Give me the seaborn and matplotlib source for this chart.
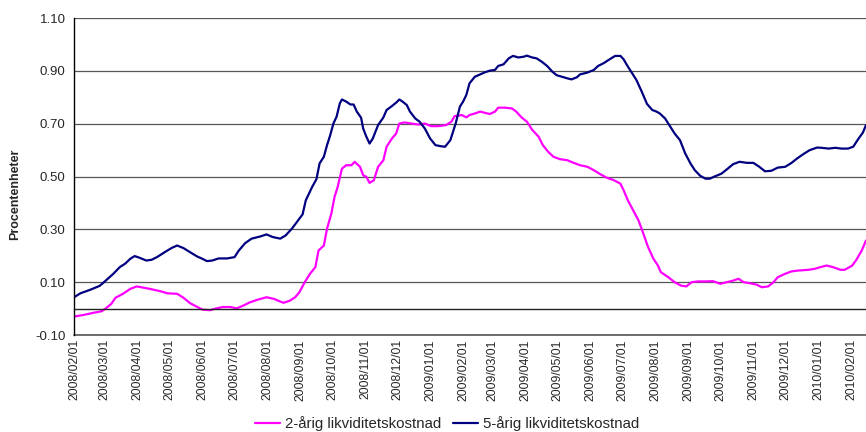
import pandas as pd
import numpy as np
import matplotlib
matplotlib.use("Agg")
import matplotlib.pyplot as plt
import matplotlib.dates as mdates
import seaborn as sns

# 2-year liquidity cost
two_year_dates = [
    "2008-02-01", "2008-02-10", "2008-02-19", "2008-02-27", "2008-03-02", "2008-03-07",
    "2008-03-11", "2008-03-18", "2008-03-25", "2008-03-31", "2008-04-04", "2008-04-12",
    "2008-04-22", "2008-04-29", "2008-05-08", "2008-05-14", "2008-05-20", "2008-05-27",
    "2008-06-01", "2008-06-08", "2008-06-14", "2008-06-20", "2008-06-27", "2008-07-03",
    "2008-07-09", "2008-07-15", "2008-07-22", "2008-07-31", "2008-08-07", "2008-08-11",
    "2008-08-16", "2008-08-22", "2008-08-27", "2008-08-31", "2008-09-05", "2008-09-10",
    "2008-09-15", "2008-09-18", "2008-09-23", "2008-09-26", "2008-09-30", "2008-10-03",
    "2008-10-06", "2008-10-10", "2008-10-14", "2008-10-19", "2008-10-22", "2008-10-27",
    "2008-10-30", "2008-11-02", "2008-11-05", "2008-11-09", "2008-11-13", "2008-11-18",
    "2008-11-21", "2008-11-26", "2008-11-30", "2008-12-03", "2008-12-08", "2008-12-14",
    "2008-12-21", "2008-12-27", "2009-01-02", "2009-01-08", "2009-01-16", "2009-01-21",
    "2009-01-24", "2009-01-31", "2009-02-04", "2009-02-07", "2009-02-12", "2009-02-17",
    "2009-02-21", "2009-02-26", "2009-03-03", "2009-03-06", "2009-03-12", "2009-03-19",
    "2009-03-23", "2009-03-28", "2009-04-02", "2009-04-07", "2009-04-13", "2009-04-17",
    "2009-04-22", "2009-04-27", "2009-05-03", "2009-05-10", "2009-05-16", "2009-05-22",
    "2009-05-29", "2009-06-04", "2009-06-10", "2009-06-16", "2009-06-23", "2009-06-29",
    "2009-07-02", "2009-07-06", "2009-07-11", "2009-07-16", "2009-07-20", "2009-07-25",
    "2009-07-30", "2009-08-03", "2009-08-06", "2009-08-13", "2009-08-19", "2009-08-25",
    "2009-08-30", "2009-09-04", "2009-09-10", "2009-09-17", "2009-09-24", "2009-10-01",
    "2009-10-07", "2009-10-13", "2009-10-18", "2009-10-23", "2009-10-29", "2009-11-04",
    "2009-11-09", "2009-11-15", "2009-11-20", "2009-11-24", "2009-12-01", "2009-12-07",
    "2009-12-13", "2009-12-23", "2009-12-29", "2010-01-03", "2010-01-09", "2010-01-15",
    "2010-01-22", "2010-01-26", "2010-02-02", "2010-02-06", "2010-02-11", "2010-02-15",
]
two_year_values = [
    -0.030, -0.024, -0.016, -0.010, 0.001, 0.018,
    0.041, 0.056, 0.075, 0.084, 0.081, 0.075,
    0.066, 0.058, 0.056, 0.041, 0.021, 0.006,
    -0.004, -0.006, 0.001, 0.006, 0.006, 0.001,
    0.011, 0.023, 0.033, 0.043, 0.037, 0.030,
    0.022, 0.030, 0.043, 0.062, 0.100, 0.132,
    0.157, 0.220, 0.239, 0.303, 0.359, 0.422,
    0.461, 0.530, 0.543, 0.543, 0.556, 0.537,
    0.505, 0.499, 0.476, 0.486, 0.537, 0.562,
    0.613, 0.644, 0.663, 0.701, 0.705, 0.701,
    0.697, 0.701, 0.691, 0.691, 0.695, 0.708,
    0.729, 0.733, 0.724, 0.733, 0.739, 0.746,
    0.742, 0.737, 0.746, 0.761, 0.761, 0.758,
    0.746, 0.724, 0.708, 0.677, 0.651, 0.619,
    0.594, 0.575, 0.566, 0.562, 0.552, 0.543,
    0.537, 0.524, 0.509, 0.496, 0.486, 0.473,
    0.448, 0.410, 0.372, 0.334, 0.290, 0.233,
    0.189, 0.165, 0.138, 0.119, 0.100, 0.087,
    0.084, 0.100, 0.103, 0.103, 0.104, 0.094,
    0.100, 0.106, 0.113, 0.100, 0.096, 0.091,
    0.081, 0.084, 0.100, 0.119, 0.132, 0.141,
    0.144, 0.147, 0.151, 0.157, 0.163, 0.157,
    0.147, 0.147, 0.163, 0.185, 0.220, 0.258,
]

# 5-year liquidity cost
five_year_dates = [
    "2008-02-01", "2008-02-07", "2008-02-16", "2008-02-25", "2008-02-28", "2008-03-09",
    "2008-03-15", "2008-03-20", "2008-03-25", "2008-03-29", "2008-04-03", "2008-04-09",
    "2008-04-14", "2008-04-19", "2008-04-24", "2008-04-28", "2008-05-03", "2008-05-08",
    "2008-05-14", "2008-05-20", "2008-05-27", "2008-05-31", "2008-06-05", "2008-06-10",
    "2008-06-16", "2008-06-24", "2008-07-01", "2008-07-05", "2008-07-11", "2008-07-17",
    "2008-07-25", "2008-07-31", "2008-08-06", "2008-08-13", "2008-08-18", "2008-08-24",
    "2008-08-31", "2008-09-03", "2008-09-06", "2008-09-12", "2008-09-16", "2008-09-19",
    "2008-09-23", "2008-09-26", "2008-09-29", "2008-10-02", "2008-10-05", "2008-10-08",
    "2008-10-10", "2008-10-14", "2008-10-18", "2008-10-21", "2008-10-24", "2008-10-28",
    "2008-10-30", "2008-11-02", "2008-11-05", "2008-11-08", "2008-11-13", "2008-11-18",
    "2008-11-21", "2008-11-26", "2008-11-30", "2008-12-03", "2008-12-06", "2008-12-10",
    "2008-12-13", "2008-12-18", "2008-12-22", "2008-12-27", "2009-01-01", "2009-01-06",
    "2009-01-11", "2009-01-15", "2009-01-20", "2009-01-25", "2009-01-29", "2009-02-01",
    "2009-02-04", "2009-02-07", "2009-02-12", "2009-02-17", "2009-02-21", "2009-02-26",
    "2009-03-03", "2009-03-06", "2009-03-11", "2009-03-16", "2009-03-20", "2009-03-25",
    "2009-03-30", "2009-04-02", "2009-04-07", "2009-04-11", "2009-04-16", "2009-04-21",
    "2009-04-26", "2009-04-30", "2009-05-05", "2009-05-10", "2009-05-14", "2009-05-19",
    "2009-05-22", "2009-05-29", "2009-06-04", "2009-06-08", "2009-06-13", "2009-06-18",
    "2009-06-24", "2009-06-29", "2009-07-02", "2009-07-05", "2009-07-10", "2009-07-14",
    "2009-07-19", "2009-07-24", "2009-07-29", "2009-08-02", "2009-08-05", "2009-08-10",
    "2009-08-14", "2009-08-19", "2009-08-24", "2009-08-29", "2009-09-03", "2009-09-07",
    "2009-09-12", "2009-09-17", "2009-09-21", "2009-09-26", "2009-10-02", "2009-10-07",
    "2009-10-13", "2009-10-19", "2009-10-26", "2009-11-01", "2009-11-06", "2009-11-12",
    "2009-11-18", "2009-11-24", "2009-12-01", "2009-12-07", "2009-12-12", "2009-12-18",
    "2009-12-24", "2009-12-31", "2010-01-04", "2010-01-11", "2010-01-17", "2010-01-23",
    "2010-01-29", "2010-02-03", "2010-02-08", "2010-02-12", "2010-02-15",
]
five_year_values = [
    0.043, 0.058, 0.071, 0.086, 0.096, 0.132,
    0.157, 0.170, 0.189, 0.199, 0.192, 0.182,
    0.185, 0.195, 0.208, 0.218, 0.230, 0.239,
    0.229, 0.214, 0.197, 0.190, 0.180, 0.182,
    0.190, 0.190, 0.195, 0.220, 0.248, 0.265,
    0.273, 0.281, 0.271, 0.265, 0.277, 0.303,
    0.341, 0.357, 0.410, 0.461, 0.490, 0.550,
    0.575, 0.619, 0.657, 0.701, 0.727, 0.777,
    0.792, 0.784, 0.773, 0.773, 0.746, 0.723,
    0.682, 0.651, 0.625, 0.644, 0.695, 0.724,
    0.752, 0.767, 0.780, 0.792, 0.784, 0.771,
    0.746, 0.720, 0.708, 0.682, 0.644, 0.619,
    0.615, 0.613, 0.638, 0.701, 0.765, 0.784,
    0.809, 0.853, 0.878, 0.887, 0.894, 0.901,
    0.904, 0.919, 0.925, 0.948, 0.957, 0.951,
    0.954, 0.958, 0.951, 0.948, 0.935, 0.919,
    0.897, 0.884, 0.878, 0.872, 0.868, 0.876,
    0.887, 0.894, 0.904, 0.919, 0.929, 0.942,
    0.957, 0.957, 0.944, 0.923, 0.891, 0.866,
    0.822, 0.775, 0.752, 0.746, 0.739, 0.720,
    0.695, 0.663, 0.638, 0.587, 0.549, 0.524,
    0.503, 0.492, 0.492, 0.501, 0.511, 0.527,
    0.547, 0.556, 0.552, 0.552, 0.539, 0.520,
    0.522, 0.534, 0.537, 0.552, 0.568, 0.585,
    0.600, 0.610, 0.609, 0.606, 0.609, 0.606,
    0.606, 0.613, 0.644, 0.666, 0.695,
]

series_names = ["2-årig likviditetskostnad", "5-årig likviditetskostnad"]
series_colors = ["#FF00FF", "#000080"]

df = pd.concat([
    pd.DataFrame({"date": pd.to_datetime(two_year_dates), "value": two_year_values,
                  "series": series_names[0]}),
    pd.DataFrame({"date": pd.to_datetime(five_year_dates), "value": five_year_values,
                  "series": series_names[1]}),
])

sns.set_style("white")
plt.rcParams["font.family"] = ["Liberation Sans", "DejaVu Sans"]

fig = plt.figure(figsize=(8.66, 4.32), dpi=100)
ax = fig.add_axes([0.0855, 0.2245, 0.9145, 0.7335])

sns.lineplot(data=df, x="date", y="value", hue="series", hue_order=series_names,
             palette=series_colors, linewidth=1.6, estimator=None, ax=ax)

# y axis
ax.set_ylim(-0.10, 1.10)
ax.set_yticks(np.arange(-0.10, 1.101, 0.20))
ax.yaxis.set_major_formatter(plt.FormatStrFormatter("%.2f"))
ax.grid(axis="y", color="#555555", linewidth=0.9)
ax.set_axisbelow(True)
ax.axhline(-0.10, color="#555555", linewidth=1.2, clip_on=False, zorder=0)
ax.set_ylabel("")

# x axis crosses at 0, labels stay low
ax.set_xlim(pd.Timestamp("2008-02-01"), pd.Timestamp("2010-02-15"))
ax.set_xticks(pd.date_range("2008-02-01", "2010-02-01", freq="MS"))
ax.xaxis.set_major_formatter(mdates.DateFormatter("%Y/%m/%d"))
ax.set_xlabel("")
ax.spines["bottom"].set_position(("data", 0))
ax.spines["bottom"].set_color("#222222")
ax.spines["bottom"].set_linewidth(1.0)
ax.spines["left"].set_color("#000000")
ax.spines["left"].set_linewidth(1.0)
ax.spines["top"].set_visible(False)
ax.spines["right"].set_visible(False)

ax.tick_params(axis="x", direction="out", length=5, width=0.9, color="#444444",
               labelsize=8.8, labelrotation=90, pad=17)
ax.tick_params(axis="y", direction="out", length=4, width=0.9, color="#222222",
               labelsize=9.5, pad=2)

fig.text(0.018, 0.551, "Procentenheter", rotation=90, fontweight="bold",
         fontsize=9, ha="center", va="center")

handles, labels = ax.get_legend_handles_labels()
ax.get_legend().remove()
fig.legend(handles, labels, loc="lower center", bbox_to_anchor=(0.516, -0.03),
           ncol=2, frameon=False, fontsize=10.8, handlelength=1.7,
           columnspacing=0.8, handletextpad=0.3)

fig.savefig("out.png", dpi=100)
